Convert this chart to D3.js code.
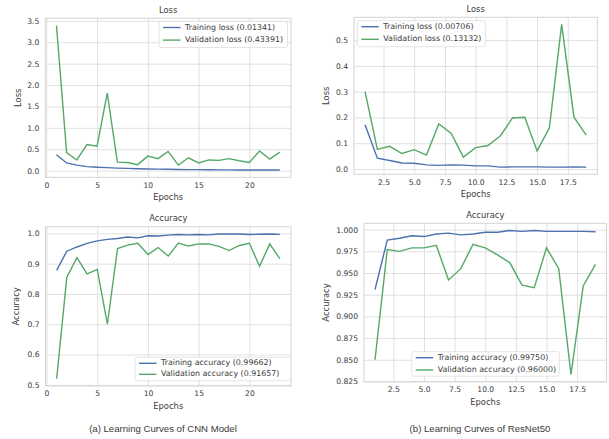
<!DOCTYPE html>
<html><head><meta charset="utf-8">
<script src="https://cdn.jsdelivr.net/npm/d3@7"></script>
<style>
html,body{margin:0;padding:0;background:#fff;}
svg{display:block;}
text{font-family:"DejaVu Sans",sans-serif;fill:#3a3a3a;}
</style></head><body>
<svg id="c" width="609" height="439"></svg>
<script>
// ---- data ----
const cnnEpochs = d3.range(1, 24);
const cnnTrainLoss = [0.37,0.18,0.13,0.095,0.08,0.07,0.06,0.052,0.046,0.04,0.036,0.031,0.028,0.025,0.023,0.02,0.018,0.017,0.016,0.015,0.014,0.014,0.01341];
const cnnValLoss = [3.39,0.42,0.25,0.61,0.57,1.81,0.20,0.19,0.14,0.34,0.28,0.45,0.13,0.30,0.18,0.25,0.24,0.28,0.23,0.19,0.46,0.27,0.43391];
const cnnTrainAcc = [0.878,0.941,0.955,0.967,0.975,0.980,0.983,0.988,0.985,0.992,0.991,0.994,0.996,0.995,0.996,0.995,0.998,0.998,0.998,0.996,0.997,0.998,0.99662];
const cnnValAcc = [0.52,0.855,0.920,0.866,0.881,0.700,0.950,0.961,0.967,0.930,0.953,0.925,0.968,0.958,0.965,0.965,0.957,0.943,0.960,0.967,0.891,0.965,0.91657];

const resEpochs = d3.range(1, 20);
const resTrainLoss = [0.172,0.042,0.033,0.023,0.022,0.016,0.014,0.016,0.015,0.012,0.012,0.007,0.008,0.008,0.008,0.007,0.007,0.008,0.00706];
const resValLoss = [0.30,0.076,0.088,0.060,0.075,0.054,0.175,0.139,0.046,0.083,0.091,0.128,0.198,0.201,0.070,0.160,0.561,0.201,0.13132];
const resTrainAcc = [0.931,0.988,0.990,0.993,0.992,0.995,0.996,0.994,0.995,0.997,0.997,0.999,0.998,0.999,0.998,0.998,0.998,0.998,0.9975];
const resValAcc = [0.850,0.977,0.975,0.979,0.979,0.982,0.942,0.955,0.983,0.979,0.971,0.962,0.936,0.933,0.979,0.955,0.833,0.935,0.960];

const cnnXTicks = [0,5,10,15,20];
const resXTicks = [2.5,5.0,7.5,10.0,12.5,15.0,17.5];
const cnnLossYTicks = [0,0.5,1.0,1.5,2.0,2.5,3.0,3.5];
const resLossYTicks = [0,0.1,0.2,0.3,0.4,0.5];
const cnnAccYTicks = [0.5,0.6,0.7,0.8,0.9,1.0];
const resAccYTicks = [0.825,0.850,0.875,0.900,0.925,0.950,0.975,1.000];

const lossLabels = ["Training loss", "Validation loss"];
const accLabels = ["Training accuracy", "Validation accuracy"];
const captions = ["(a) Learning Curves of CNN Model", "(b) Learning Curves of ResNet50"];

const BLUE = "#4c72b0", GREEN = "#55a868";
const svg = d3.select("#c");

function panel(o){
  const g = svg.append("g");
  const x = d3.scaleLinear().domain(o.xdom).range([o.x0, o.x1]);
  const y = d3.scaleLinear().domain(o.ydom).range([o.y1, o.y0]);
  // grid
  const xa = d3.axisBottom(x).tickValues(o.xticks).tickSize(-(o.y1-o.y0)).tickPadding(5).tickFormat(o.xfmt);
  const ya = d3.axisLeft(y).tickValues(o.yticks).tickSize(-(o.x1-o.x0)).tickPadding(6).tickFormat(o.yfmt);
  const gx = g.append("g").attr("transform",`translate(0,${o.y1})`).call(xa);
  const gy = g.append("g").attr("transform",`translate(${o.x0},0)`).call(ya);
  [gx,gy].forEach(a=>{
    a.select(".domain").remove();
    a.selectAll(".tick line").attr("stroke","#dcdcdc").attr("stroke-width",0.9);
    a.selectAll(".tick text").attr("font-size",7.6).attr("fill","#444").style("font-family","DejaVu Sans");
  });
  // frame
  g.append("rect").attr("x",o.x0).attr("y",o.y0).attr("width",o.x1-o.x0).attr("height",o.y1-o.y0)
    .attr("fill","none").attr("stroke","#d4d4d4").attr("stroke-width",1);
  const line = d3.line().x((d,i)=>x(o.epochs[i])).y(d=>y(d));
  g.append("path").datum(o.train).attr("d",line).attr("fill","none").attr("stroke",BLUE).attr("stroke-width",1.4);
  g.append("path").datum(o.val).attr("d",line).attr("fill","none").attr("stroke",GREEN).attr("stroke-width",1.4);
  // title & labels
  g.append("text").attr("x",(o.x0+o.x1)/2).attr("y",o.y0-8).attr("text-anchor","middle").attr("dominant-baseline","middle").attr("font-size",8.4).text(o.title);
  g.append("text").attr("x",(o.x0+o.x1)/2).attr("y",o.y1+20.3).attr("text-anchor","middle").attr("dominant-baseline","middle").attr("font-size",8.4).text("Epochs");
  g.append("text").attr("transform",`translate(${o.ylx},${(o.y0+o.y1)/2}) rotate(-90)`).attr("text-anchor","middle").attr("dominant-baseline","middle").attr("font-size",8.4).text(o.ylabel);
  // legend
  const L = o.leg;
  g.append("rect").attr("x",L.x).attr("y",L.y).attr("width",L.w).attr("height",L.h).attr("rx",2)
    .attr("fill","#fff").attr("fill-opacity",0.85).attr("stroke","#dddddd").attr("stroke-width",0.8);
  const items = [[o.labels[0]+" ("+o.finals[0]+")",BLUE],[o.labels[1]+" ("+o.finals[1]+")",GREEN]];
  items.forEach((it,i)=>{
    const yy = L.y + L.r0 + i*L.dr;
    g.append("line").attr("x1",L.x+4).attr("x2",L.x+21.5).attr("y1",yy).attr("y2",yy).attr("stroke",it[1]).attr("stroke-width",1.4);
    g.append("text").attr("x",L.x+26).attr("y",yy).attr("dominant-baseline","middle").attr("font-size",7.9).text(it[0]);
  });
  return g;
}
const f1 = d3.format(".1f"), f0 = d3.format("d"), f3 = d3.format(".3f");
const pad = (lo,hi)=>{const m=(hi-lo)*0.05;return [lo-m,hi+m];};

panel({x0:45.3,x1:291,y0:18.3,y1:177.3,xdom:pad(1,23),
  ydom:pad(d3.min(cnnTrainLoss.concat(cnnValLoss)),d3.max(cnnTrainLoss.concat(cnnValLoss))),
  xticks:cnnXTicks,yticks:cnnLossYTicks,xfmt:f0,yfmt:f1,epochs:cnnEpochs,train:cnnTrainLoss,val:cnnValLoss,
  title:"Loss",ylabel:"Loss",ylx:18,labels:lossLabels,finals:["0.01341","0.43391"],
  leg:{x:159,y:21.5,w:128.5,h:26,r0:6,dr:12.6}});

panel({x0:354,x1:597.3,y0:17.3,y1:174.3,xdom:pad(1,19),
  ydom:pad(d3.min(resTrainLoss.concat(resValLoss)),d3.max(resTrainLoss.concat(resValLoss))),
  xticks:resXTicks,yticks:resLossYTicks,xfmt:f1,yfmt:f1,epochs:resEpochs,train:resTrainLoss,val:resValLoss,
  title:"Loss",ylabel:"Loss",ylx:326.7,labels:lossLabels,finals:["0.00706","0.13132"],
  leg:{x:357.3,y:20.7,w:128,h:26,r0:6,dr:12.6}});

panel({x0:45.5,x1:291,y0:226.7,y1:386,xdom:pad(1,23),
  ydom:pad(d3.min(cnnTrainAcc.concat(cnnValAcc)),d3.max(cnnTrainAcc.concat(cnnValAcc))),
  xticks:cnnXTicks,yticks:cnnAccYTicks,xfmt:f0,yfmt:f1,epochs:cnnEpochs,train:cnnTrainAcc,val:cnnValAcc,
  title:"Accuracy",ylabel:"Accuracy",ylx:16.7,labels:accLabels,finals:["0.99662","0.91657"],
  leg:{x:135,y:357.3,w:155.7,h:23.5,r0:6,dr:11}});

panel({x0:364,x1:606.5,y0:223.3,y1:381.7,xdom:pad(1,19),
  ydom:pad(d3.min(resTrainAcc.concat(resValAcc)),d3.max(resTrainAcc.concat(resValAcc))),
  xticks:resXTicks,yticks:resAccYTicks,xfmt:f1,yfmt:f3,epochs:resEpochs,train:resTrainAcc,val:resValAcc,
  title:"Accuracy",ylabel:"Accuracy",ylx:326.7,labels:accLabels,finals:["0.99750","0.96000"],
  leg:{x:411.7,y:351.7,w:147.6,h:24.5,r0:6,dr:12.3}});

svg.append("text").attr("x",163).attr("y",429.3).attr("text-anchor","middle").attr("dominant-baseline","middle")
  .attr("font-size",9.6).style("font-family","Liberation Sans, Arial, sans-serif").attr("fill","#222").text(captions[0]);
svg.append("text").attr("x",480).attr("y",429.3).attr("text-anchor","middle").attr("dominant-baseline","middle")
  .attr("font-size",9.6).style("font-family","Liberation Sans, Arial, sans-serif").attr("fill","#222").text(captions[1]);
</script>
</body></html>
